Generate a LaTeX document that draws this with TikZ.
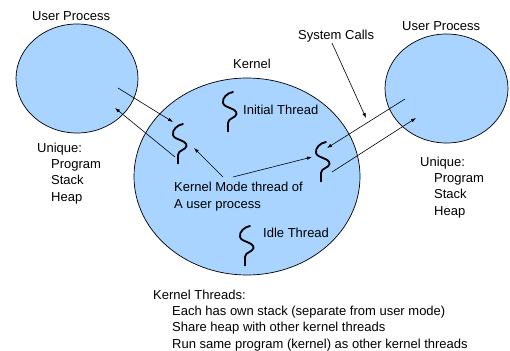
\documentclass[tikz,border=0pt]{standalone}
\usepackage{fontspec}
\setmainfont{Liberation Sans}
\usetikzlibrary{shapes.geometric,arrows.meta}

\definecolor{procblue}{RGB}{168,212,255}

\tikzset{
  proc/.style={ellipse, draw, fill=procblue, line width=0.7pt, inner sep=0pt},
  lbl/.style={anchor=base west, inner sep=0pt, align=left},
  call/.style={-{Latex[length=5pt,width=3.5pt]}, line width=0.6pt},
  thread/.pic={
    \draw[line width=1.8pt, line cap=round]
      (0,0) .. controls (-6,1) and (-11,6) .. (-10,11)
      .. controls (-9,16) and (4,16) .. (3.5,22)
      .. controls (3,26) and (-5,26) .. (-5,31) -- (-5,39.5);
  }
}

\begin{document}
\begin{tikzpicture}[x=1pt, y=-1pt, font=\fontsize{13}{16.3}\selectfont]
  \useasboundingbox (0,0) rectangle (510,350);

  % processes and kernel
  \node[proc, minimum width=122pt, minimum height=109pt] (up1) at (77,78.5) {};
  \node[proc, minimum width=123pt, minimum height=109pt] (up2) at (446.5,88.5) {};
  \node[proc, minimum width=226pt, minimum height=197pt] (kern) at (247,176.5) {};

  % labels (multi-line ones sit on their last baseline)
  \node[lbl] (up1lbl) at (32,21) {User Process};
  \node[lbl] (up2lbl) at (402,31) {User Process};
  \node[lbl] (kernlbl) at (233,69) {Kernel};
  \node[lbl] (sclbl) at (298,40) {System Calls};
  \node[lbl] (initlbl) at (243,114) {Initial Thread};
  \node[lbl] (idlelbl) at (263,237) {Idle Thread};
  \node[lbl] (kmlbl) at (174,208) {Kernel Mode thread of\\A user process};
  \node[lbl] (uq1) at (37,201) {Unique:\\\hspace*{14pt}Program\\\hspace*{14pt}Stack\\\hspace*{14pt}Heap};
  \node[lbl] (uq2) at (420,215) {Unique:\\\hspace*{14pt}Program\\\hspace*{14pt}Stack\\\hspace*{14pt}Heap};
  \node[lbl] (ktlbl) at (153,348) {Kernel Threads:\\
    \hspace*{19pt}Each has own stack (separate from user mode)\\
    \hspace*{19pt}Share heap with other kernel threads\\
    \hspace*{19pt}Run same program (kernel) as other kernel threads};

  % arrow ends
  \coordinate (p1) at (118,88);
  \coordinate (t1a) at (173,122);
  \coordinate (t1b) at (175,157);
  \coordinate (p1b) at (115,108);
  \coordinate (km1) at (223,177);
  \coordinate (t1c) at (194,148);
  \coordinate (km2) at (233,177);
  \coordinate (t2a) at (312,157);
  \coordinate (sc) at (332,43);
  \coordinate (sce) at (366,118);
  \coordinate (p2) at (405,99);
  \coordinate (t2b) at (327,148);
  \coordinate (t2c) at (332,172);
  \coordinate (p2b) at (416,118);

  \begin{scope}[call]
    \draw (p1) to (t1a);
    \draw (t1b) to (p1b);
    \draw (km1) to (t1c);
    \draw (km2) to (t2a);
    \draw (sc) to (sce);
    \draw (p2) to (t2b);
    \draw (t2c) to (p2b);
  \end{scope}

  % threads
  \pic at (233,92) {thread};
  \pic at (183,124) {thread};
  \pic at (326,142) {thread};
  \pic at (250,226) {thread};
\end{tikzpicture}
\end{document}
